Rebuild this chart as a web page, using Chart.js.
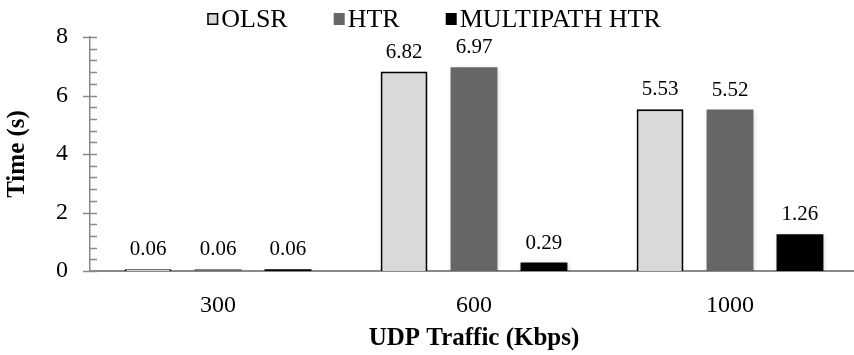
<!DOCTYPE html>
<html>
<head>
<meta charset="utf-8">
<script src="https://cdn.jsdelivr.net/npm/chart.js@4"></script>
<style>
  html, body { margin: 0; padding: 0; background: #ffffff; }
  #wrap { width: 854px; height: 355px; overflow: hidden; position: relative; }
  canvas { display: block; }
</style>
</head>
<body>
<div id="wrap"><canvas id="c" width="864" height="355" style="width:864px;height:355px"></canvas></div>
<script>
// ---- data ----
const categories = ['300', '600', '1000'];
const seriesNames = ['OLSR', 'HTR', 'MULTIPATH HTR'];
const olsrValues = [0.06, 6.82, 5.53];
const htrValues = [0.06, 6.97, 5.52];
const multipathValues = [0.06, 0.29, 1.26];
const yTicksMajor = [0, 2, 4, 6, 8];

const AXIS = '#898989';
const SERIF = '"Liberation Serif", "Times New Roman", serif';

const shadowPlugin = {
  id: 'barShadow',
  beforeDatasetsDraw(chart) {
    const ctx = chart.ctx;
    ctx.save();
    ctx.shadowColor = 'rgba(0,0,0,0.22)';
    ctx.shadowBlur = 5;
    ctx.shadowOffsetX = 1;
    ctx.shadowOffsetY = 2;
  },
  afterDatasetsDraw(chart) { chart.ctx.restore(); }
};

const ticksPlugin = {
  id: 'yTicks',
  afterDraw(chart) {
    const ctx = chart.ctx;
    const y = chart.scales.y;
    const x0 = chart.chartArea.left;
    ctx.save();
    ctx.strokeStyle = AXIS;
    ctx.lineWidth = 1.5;
    const maxV = yTicksMajor[yTicksMajor.length - 1];
    for (let i = 0; i <= Math.round(maxV / 0.4); i++) {
      const v = i * 0.4;
      const p = Math.round(y.getPixelForValue(v)) + 0.5;
      const major = Math.abs(v / 2 - Math.round(v / 2)) < 1e-6;
      ctx.beginPath();
      ctx.moveTo(major ? x0 - 7 : x0, p);
      ctx.lineTo(x0 + 7, p);
      ctx.stroke();
    }
    ctx.restore();
  }
};

const labelsPlugin = {
  id: 'valueLabels',
  afterDraw(chart) {
    const ctx = chart.ctx;
    ctx.save();
    ctx.fillStyle = '#000';
    ctx.font = '21px ' + SERIF;
    ctx.textAlign = 'center';
    ctx.textBaseline = 'alphabetic';
    chart.data.datasets.forEach((ds, di) => {
      const meta = chart.getDatasetMeta(di);
      meta.data.forEach((bar, i) => {
        ctx.fillText(ds.data[i].toFixed(2), bar.x, bar.y - 14);
      });
    });
    ctx.restore();
  }
};

const legendPlugin = {
  id: 'customLegend',
  afterDraw(chart) {
    const ctx = chart.ctx;
    ctx.save();
    ctx.font = '26px ' + SERIF;
    ctx.textBaseline = 'middle';
    ctx.textAlign = 'left';
    const box = 11, gapBoxText = 3, gapItems = 46;
    const items = chart.data.datasets.map(ds => ({
      text: ds.label, fill: ds.backgroundColor, border: ds.borderWidth > 0 ? ds.borderColor : null,
      w: box + gapBoxText + ctx.measureText(ds.label).width
    }));
    const total = items.reduce((s, it) => s + it.w, 0) + gapItems * (items.length - 1);
    let x = 434 - total / 2;
    const cy = 19;
    items.forEach(it => {
      ctx.fillStyle = it.fill;
      ctx.fillRect(x, cy - 6, box, 12);
      if (it.border) {
        ctx.strokeStyle = it.border;
        ctx.lineWidth = 1.5;
        ctx.strokeRect(x + 0.75, cy - 5.25, box - 1.5, 10.5);
      }
      ctx.fillStyle = '#000';
      ctx.fillText(it.text, x + box + gapBoxText, cy + 1);
      x += it.w + gapItems;
    });
    ctx.restore();
  }
};

new Chart(document.getElementById('c'), {
  type: 'bar',
  data: {
    labels: categories,
    datasets: [
      { label: seriesNames[0], data: olsrValues, backgroundColor: '#d9d9d9', borderColor: '#000000', borderWidth: 2, borderSkipped: 'bottom' },
      { label: seriesNames[1], data: htrValues, backgroundColor: '#666666', borderColor: '#666666', borderWidth: 0 },
      { label: seriesNames[2], data: multipathValues, backgroundColor: '#000000', borderColor: '#000000', borderWidth: 0 }
    ]
  },
  options: {
    responsive: false,
    animation: false,
    devicePixelRatio: 1,
    layout: { padding: { top: 37, right: 6, left: 0, bottom: 0 } },
    datasets: { bar: { categoryPercentage: 0.82, barPercentage: 0.67 } },
    plugins: { legend: { display: false }, tooltip: { enabled: false } },
    scales: {
      x: {
        grid: { display: false, drawTicks: false },
        border: { display: true, color: AXIS, width: 2 },
        ticks: { color: '#000', font: { family: SERIF, size: 24 }, padding: 20 },
        title: { display: true, text: 'UDP Traffic (Kbps)', color: '#000', font: { family: SERIF, size: 25, weight: 'bold' }, padding: { top: 0, bottom: 1 } },
        afterFit(s) { s.height = 84; }
      },
      y: {
        min: 0, max: 8,
        grid: { display: false, drawTicks: false },
        border: { display: true, color: AXIS, width: 1.5 },
        afterBuildTicks(s) { s.ticks = yTicksMajor.map(v => ({ value: v })); },
        ticks: { color: '#000', font: { family: SERIF, size: 24 }, padding: 22 },
        title: { display: true, text: 'Time (s)', color: '#000', font: { family: SERIF, size: 25, weight: 'bold' }, padding: { top: 3, bottom: 0 } },
        afterFit(s) { s.width = 90; }
      }
    }
  },
  plugins: [shadowPlugin, ticksPlugin, labelsPlugin, legendPlugin]
});
</script>
</body>
</html>
